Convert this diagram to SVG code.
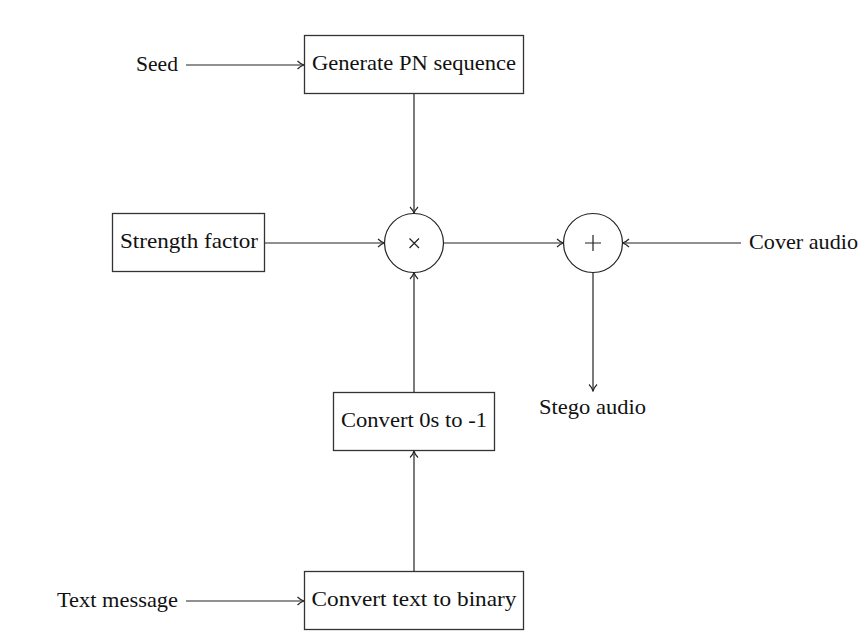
<svg xmlns="http://www.w3.org/2000/svg" width="867" height="635" viewBox="0 0 867 635">
<style>
.box{fill:#fff;stroke:#333;stroke-width:1.3}
.t{font-family:"Liberation Serif","DejaVu Serif",serif;font-size:21px;fill:#111;text-anchor:middle}
.c{fill:none;stroke:#222;stroke-width:1.2}
.op{stroke:#222;stroke-width:1.2;fill:none}
</style>
<defs>
<marker id="ar" viewBox="0 0 10 10" refX="9.5" refY="5" markerWidth="10" markerHeight="10" markerUnits="userSpaceOnUse" orient="auto">
<path d="M3,1 Q6,4 9.5,5 Q6,6 3,9" fill="none" stroke="#222" stroke-width="1.1"/>
</marker>
</defs>
<g id="connectors">
<line class="c" x1="186" y1="65" x2="304" y2="65" marker-end="url(#ar)"/>
<line class="c" x1="414" y1="94" x2="414" y2="213.5" marker-end="url(#ar)"/>
<line class="c" x1="265" y1="243" x2="384.5" y2="243" marker-end="url(#ar)"/>
<line class="c" x1="443.5" y1="243" x2="563.5" y2="243" marker-end="url(#ar)"/>
<line class="c" x1="741" y1="243" x2="622.5" y2="243" marker-end="url(#ar)"/>
<line class="c" x1="593" y1="272.5" x2="593" y2="391" marker-end="url(#ar)"/>
<line class="c" x1="414" y1="392" x2="414" y2="272.5" marker-end="url(#ar)"/>
<line class="c" x1="414" y1="571" x2="414" y2="451" marker-end="url(#ar)"/>
<line class="c" x1="186" y1="601" x2="304" y2="601" marker-end="url(#ar)"/>
</g>
<g id="seed"><text class="t" x="157" y="71" textLength="42" lengthAdjust="spacingAndGlyphs">Seed</text></g>
<g id="pn"><rect class="box" x="304.5" y="35.5" width="219" height="58"/><text class="t" x="414" y="70" textLength="204" lengthAdjust="spacingAndGlyphs">Generate PN sequence</text></g>
<g id="strength"><rect class="box" x="112.5" y="213.5" width="152" height="58"/><text class="t" x="189" y="248" textLength="138" lengthAdjust="spacingAndGlyphs">Strength factor</text></g>
<g id="mult"><circle class="c" cx="414" cy="243" r="29.5"/><path class="op" d="M409.5,238.5 L419,248 M419,238.5 L409.5,248"/></g>
<g id="add"><circle class="c" cx="593" cy="243" r="29.5"/><path class="op" d="M593,235 L593,251 M585,243 L601,243"/></g>
<g id="cover"><text class="t" x="803.5" y="249" textLength="109" lengthAdjust="spacingAndGlyphs">Cover audio</text></g>
<g id="stego"><text class="t" x="592.5" y="413.5" textLength="107" lengthAdjust="spacingAndGlyphs">Stego audio</text></g>
<g id="conv01"><rect class="box" x="333.5" y="392.5" width="161" height="58"/><text class="t" x="414" y="427" textLength="146" lengthAdjust="spacingAndGlyphs">Convert 0s to -1</text></g>
<g id="textmsg"><text class="t" x="117.5" y="606.5" textLength="121" lengthAdjust="spacingAndGlyphs">Text message</text></g>
<g id="binary"><rect class="box" x="304.5" y="571.5" width="219" height="58"/><text class="t" x="414" y="606" textLength="205" lengthAdjust="spacingAndGlyphs">Convert text to binary</text></g>
</svg>
